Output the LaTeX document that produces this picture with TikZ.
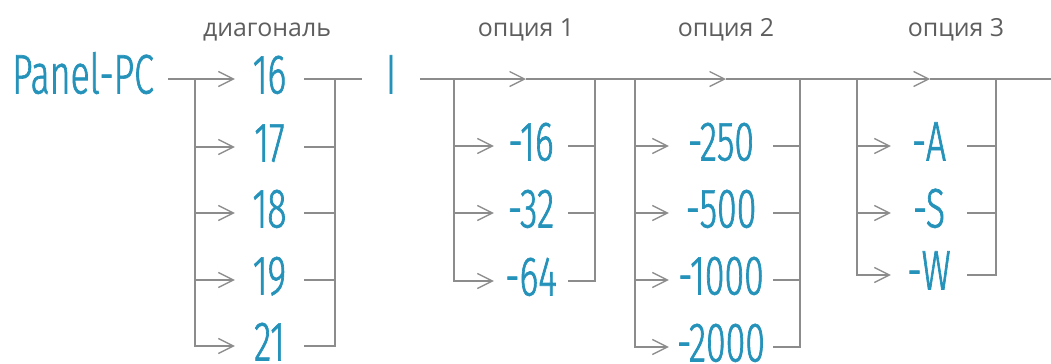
\documentclass[tikz,border=0pt]{standalone}
\usepackage{fontspec}
\setmainfont{Open Sans}
\newfontfamily\numfont{Fira Sans}[UprightFont={* Light},FakeStretch=0.64,FakeBold=1.2]
\usetikzlibrary{arrows.meta}
\definecolor{blu}{HTML}{2592BA}
\definecolor{lnc}{HTML}{8C8C8C}
\definecolor{lab}{HTML}{5E5E5E}
\begin{document}
\begin{tikzpicture}[x=1bp,y=-1bp,
  num/.style={font=\numfont\fontsize{56}{56}\selectfont, text=blu, inner sep=0pt,
    text height=35bp, text depth=6bp, anchor=center},
  lbl/.style={font=\fontsize{25}{25}\selectfont, text=lab, anchor=base, inner sep=0pt},
  ln/.style={draw=lnc, line width=1.3bp},
  arr/.style={ln, -{Straight Barb[length=15bp,width=15bp]}}]
\useasboundingbox (0,0) rectangle (1051,363);
% labels
\node[lbl] (ld) at (267,36) {диагональ};
\node[lbl] (lo1) at (526,36) {опция 1};
\node[lbl] (lo2) at (726,36) {опция 2};
\node[lbl] (lo3) at (956,36) {опция 3};
% Panel-PC and diagonal
\node[num, minimum width=170bp] (pc) at (83,79) {Panel-PC};
\foreach \n/\y in {16/79,17/147,18/213,19/280,21/346}
  \node[num, minimum width=69bp] (d\n) at (269.5,\y) {\n};
\node[num, minimum width=58bp] (I) at (391,79) {I};
\coordinate (dL) at (195,79);
\coordinate (dR) at (335,79);
\draw[arr] (pc) -- (d16);
\draw[ln] (d16) -- (I);
\foreach \n in {17,18,19,21}{
  \draw[arr] (dL) |- (d\n.west);
  \draw[ln] (d\n.east) -| (dR);
}
% option 1
\coordinate (o1L) at (454,79);
\coordinate (o1M) at (526,79);
\coordinate (o1R) at (595,79);
\foreach \n/\y in {16/146,32/213,64/281}{
  \node[num, minimum width=74bp] (a\n) at (531,\y) {-\n};
  \draw[arr] (o1L) |- (a\n.west);
  \draw[ln] (a\n.east) -| (o1R);
}
% option 2
\coordinate (o2L) at (635,79);
\coordinate (o2M) at (726,79);
\coordinate (o2R) at (800,79);
\foreach \n/\y in {250/146,500/213,1000/280,2000/347}{
  \node[num, minimum width=104bp] (b\n) at (721,\y) {-\n};
  \draw[arr] (o2L) |- (b\n.west);
  \draw[ln] (b\n.east) -| (o2R);
}
% option 3
\coordinate (o3L) at (857,79);
\coordinate (o3M) at (930,79);
\coordinate (o3R) at (996,79);
\coordinate (endp) at (1051,79);
\foreach \n/\y in {A/146,S/213,W/275}{
  \node[num, minimum width=76bp] (c\n) at (929,\y) {-\n};
  \draw[arr] (o3L) |- (c\n.west);
  \draw[ln] (c\n.east) -| (o3R);
}
% main line
\draw[arr] (I) -- (o1M);
\draw[arr] (o1M) -- (o2M);
\draw[arr] (o2M) -- (o3M);
\draw[ln] (o3M) -- (endp);
\end{tikzpicture}
\end{document}
